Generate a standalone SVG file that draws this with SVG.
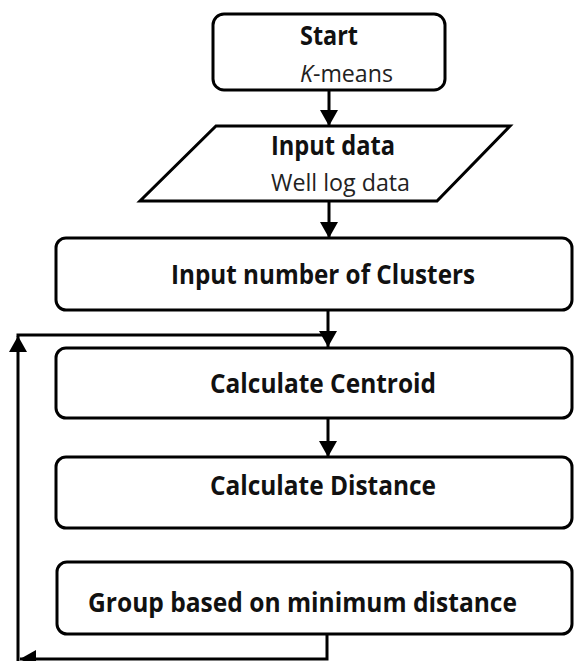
<svg xmlns="http://www.w3.org/2000/svg" width="574" height="661" viewBox="0 0 574 661">
<style>
.box{fill:#fff;stroke:#000;stroke-width:3}
.ln{fill:none;stroke:#000;stroke-width:3}
.b{font-family:"Open Sans","Liberation Sans",sans-serif;font-weight:700;font-size:26px;fill:#111}
.r{font-family:"Open Sans","Liberation Sans",sans-serif;font-weight:400;font-size:23px;fill:#222}
</style>
<defs>
<marker id="ah" markerUnits="userSpaceOnUse" markerWidth="18" markerHeight="18" viewBox="0 0 16 18" refX="16" refY="9" orient="auto">
<path d="M0,0 L16,9 L0,18 Z" fill="#000"/>
</marker>
</defs>
<rect width="574" height="661" fill="#fff"/>
<g id="connectors">
<line class="ln" x1="329" y1="90" x2="329" y2="126" marker-end="url(#ah)"/>
<line class="ln" x1="329" y1="201" x2="329" y2="238" marker-end="url(#ah)"/>
<line class="ln" x1="328" y1="310" x2="328" y2="347" marker-end="url(#ah)"/>
<line class="ln" x1="328" y1="418" x2="328" y2="457" marker-end="url(#ah)"/>
<polyline class="ln" points="327,634 327,659 20,659" marker-end="url(#ah)"/>
<line class="ln" x1="18" y1="661" x2="18" y2="336" marker-end="url(#ah)"/>
<line class="ln" x1="16.5" y1="335" x2="328" y2="335"/>
</g>
<g id="start">
<rect class="box" x="213" y="14" width="232" height="76" rx="11"/>
<text class="b" x="300" y="45" textLength="58" lengthAdjust="spacingAndGlyphs">Start</text>
<text class="r" x="300" y="82" textLength="93" lengthAdjust="spacingAndGlyphs"><tspan font-style="italic">K</tspan>-means</text>
</g>
<g id="input-data">
<polygon class="box" points="216,126 510,126 437,201 140,201"/>
<text class="b" x="271" y="155" textLength="124" lengthAdjust="spacingAndGlyphs">Input data</text>
<text class="r" x="271" y="191" textLength="139" lengthAdjust="spacingAndGlyphs">Well log data</text>
</g>
<g id="clusters">
<rect class="box" x="56" y="238" width="516" height="72" rx="10"/>
<text class="b" x="171" y="284" textLength="304" lengthAdjust="spacingAndGlyphs">Input number of Clusters</text>
</g>
<g id="centroid">
<rect class="box" x="56" y="348" width="516" height="70" rx="10"/>
<text class="b" x="210" y="393" textLength="226" lengthAdjust="spacingAndGlyphs">Calculate Centroid</text>
</g>
<g id="distance">
<rect class="box" x="56" y="457" width="516" height="71" rx="10"/>
<text class="b" x="210" y="495" textLength="226" lengthAdjust="spacingAndGlyphs">Calculate Distance</text>
</g>
<g id="group">
<rect class="box" x="57" y="562" width="515" height="72" rx="10"/>
<text class="b" x="88" y="612" textLength="429" lengthAdjust="spacingAndGlyphs">Group based on minimum distance</text>
</g>
</svg>
